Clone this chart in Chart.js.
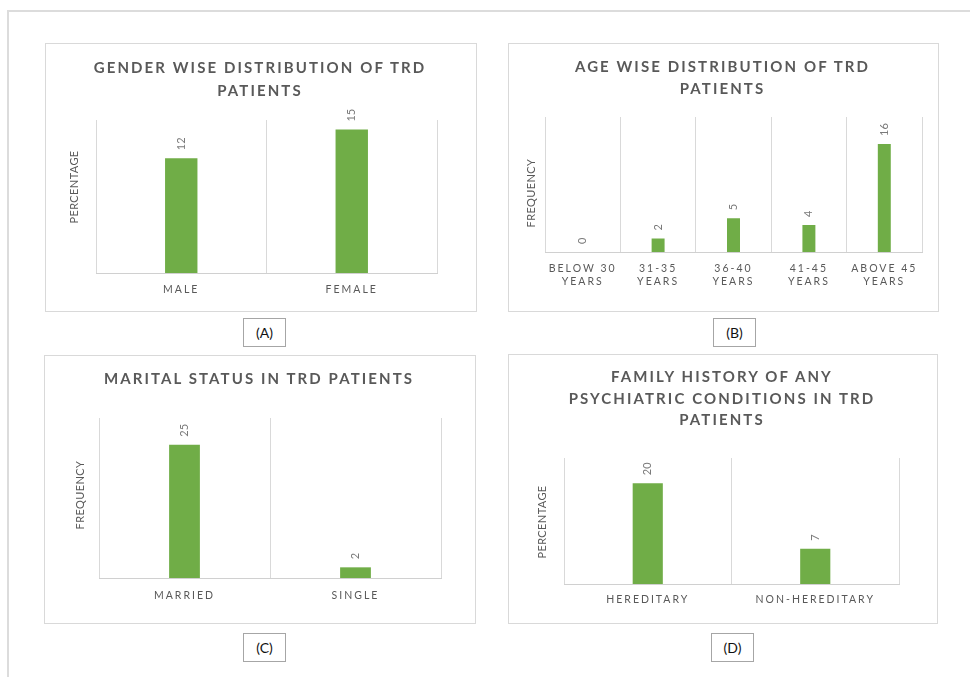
<!DOCTYPE html>
<html><head><meta charset="utf-8">
<script src="https://cdn.jsdelivr.net/npm/chart.js@4.4.1/dist/chart.umd.min.js"></script>
<style>
html,body{margin:0;padding:0;background:#fff;}
body{width:970px;height:677px;position:relative;overflow:hidden;font-family:Lato,"Open Sans",sans-serif;}
.frameTop{position:absolute;left:8px;top:10px;width:962px;height:0;border-top:2px solid #dcdcdc;}
.frameLeft{position:absolute;left:7px;top:10px;width:0;height:667px;border-left:2px solid #dcdcdc;}
.panel{position:absolute;box-sizing:border-box;border:1px solid #d9d9d9;}
.cv{position:absolute;}
.ttl{position:absolute;text-align:center;white-space:nowrap;font-weight:700;font-size:15px;letter-spacing:2.1px;color:#595959;}
.tag{position:absolute;box-sizing:border-box;width:43px;height:29px;border:1px solid #a6a6a6;text-align:center;line-height:27px;font-size:14px;color:#111;font-family:Lato,sans-serif;}
</style></head>
<body>
<div class="frameTop"></div><div class="frameLeft"></div>

<div class="panel" style="left:45px;top:43px;width:432px;height:269px;"></div>
<canvas id="cA" class="cv" style="left:45px;top:43px;"></canvas>
<div class="ttl" style="left:45px;width:430px;top:56px;line-height:23px;">GENDER WISE DISTRIBUTION OF TRD<br>PATIENTS</div>
<div class="tag" style="left:243px;top:318px;">(A)</div>

<div class="panel" style="left:508px;top:43px;width:431px;height:269px;"></div>
<canvas id="cB" class="cv" style="left:508px;top:43px;"></canvas>
<div class="ttl" style="left:508px;width:429px;top:56px;line-height:21.5px;">AGE WISE DISTRIBUTION OF TRD<br>PATIENTS</div>
<div class="tag" style="left:713px;top:318px;">(B)</div>

<div class="panel" style="left:44px;top:355px;width:432px;height:269px;"></div>
<canvas id="cC" class="cv" style="left:44px;top:355px;"></canvas>
<div class="ttl" style="left:44px;width:430px;top:367px;line-height:22px;">MARITAL STATUS IN TRD PATIENTS</div>
<div class="tag" style="left:243px;top:633px;">(C)</div>

<div class="panel" style="left:508px;top:354px;width:430px;height:270px;"></div>
<canvas id="cD" class="cv" style="left:508px;top:354px;"></canvas>
<div class="ttl" style="left:508px;width:428px;top:366px;line-height:21.5px;">FAMILY HISTORY OF ANY<br>PSYCHIATRIC CONDITIONS IN TRD<br>PATIENTS</div>
<div class="tag" style="left:711px;top:633px;">(D)</div>

<script>
// ---- data ----
const genderLabels = ['MALE', 'FEMALE'];
const genderValues = [12, 15];
const ageLabels = [['BELOW 30', 'YEARS'], ['31-35', 'YEARS'], ['36-40', 'YEARS'], ['41-45', 'YEARS'], ['ABOVE 45', 'YEARS']];
const ageValues = [0, 2, 5, 4, 16];
const maritalLabels = ['MARRIED', 'SINGLE'];
const maritalValues = [25, 2];
const familyLabels = ['HEREDITARY', 'NON-HEREDITARY'];
const familyValues = [20, 7];

const GREEN = '#70ad47';
const FONT = 'Lato, "Open Sans", sans-serif';

const valueLabels = {
  id: 'valueLabels',
  afterDatasetsDraw(chart) {
    const ctx = chart.ctx;
    const meta = chart.getDatasetMeta(0);
    const data = chart.data.datasets[0].data;
    ctx.save();
    ctx.fillStyle = '#7a7a7a';
    ctx.font = '11px ' + FONT;
    ctx.textAlign = 'left';
    ctx.textBaseline = 'middle';
    meta.data.forEach((el, i) => {
      ctx.save();
      ctx.translate(el.x, el.y - 8);
      ctx.rotate(-Math.PI / 2);
      ctx.fillText(String(data[i]), 0, 0);
      ctx.restore();
    });
    ctx.restore();
  }
};

const yTitle = {
  id: 'yTitle',
  afterDraw(chart, args, opts) {
    const ctx = chart.ctx;
    ctx.save();
    ctx.fillStyle = '#595959';
    ctx.font = '11px ' + FONT;
    ctx.letterSpacing = '0.4px';
    ctx.textAlign = 'center';
    ctx.textBaseline = 'middle';
    ctx.translate(opts.x, opts.y);
    ctx.rotate(-Math.PI / 2);
    ctx.fillText(opts.text, 0, 0);
    ctx.restore();
  }
};

const spacedTicks = {
  id: 'spacedTicks',
  beforeDraw(chart) {
    const xs = chart.scales.x;
    if (!xs._spaced) {
      const orig = xs.drawLabels.bind(xs);
      xs.drawLabels = function (ca) {
        chart.ctx.letterSpacing = '2px';
        orig(ca);
        chart.ctx.letterSpacing = '0px';
      };
      xs._spaced = true;
    }
  }
};

function makeChart(id, w, h, labels, values, cfg) {
  const cv = document.getElementById(id);
  cv.width = w; cv.height = h;
  cv.style.width = w + 'px'; cv.style.height = h + 'px';
  return new Chart(cv, {
    type: 'bar',
    data: {
      labels: labels,
      datasets: [{ data: values, backgroundColor: GREEN, borderWidth: 0,
        categoryPercentage: 1, barPercentage: cfg.barPct }]
    },
    options: {
      responsive: false,
      animation: false,
      devicePixelRatio: 1,
      layout: { padding: { top: cfg.padTop, right: cfg.padRight, left: 0, bottom: 0 } },
      plugins: {
        legend: { display: false }, tooltip: { enabled: false },
        yTitle: { text: cfg.yTitle, x: cfg.tx, y: cfg.ty }
      },
      scales: {
        x: {
          grid: { color: '#d9d9d9', lineWidth: 1, drawTicks: false, offset: true },
          border: { color: '#d0d0d0', width: 1 },
          ticks: { color: '#595959', font: { family: FONT, size: 10.5, lineHeight: 1.3 },
            padding: cfg.tickPad, autoSkip: false, maxRotation: 0, minRotation: 0 },
          afterFit(s) { s.height = cfg.xH; }
        },
        y: {
          min: 0, max: cfg.max,
          grid: { display: false },
          border: { display: false },
          ticks: { display: false },
          afterFit(s) { s.width = cfg.yW; }
        }
      }
    },
    plugins: [valueLabels, spacedTicks, yTitle]
  });
}

makeChart('cA', 432, 269, genderLabels, genderValues,
  { max: 16, barPct: 0.19, padTop: 77, padRight: 40, yW: 51, xH: 39, tickPad: 9.5, tx: 29, ty: 144, yTitle: 'PERCENTAGE' });
makeChart('cB', 431, 269, ageLabels, ageValues,
  { max: 20, barPct: 0.172, padTop: 74, padRight: 17, yW: 37, xH: 60, tickPad: 9.5, tx: 23, ty: 150, yTitle: 'FREQUENCY' });
makeChart('cC', 432, 269, maritalLabels, maritalValues,
  { max: 30, barPct: 0.18, padTop: 63, padRight: 35, yW: 55, xH: 46, tickPad: 10.5, tx: 36, ty: 140, yTitle: 'FREQUENCY' });
makeChart('cD', 430, 270, familyLabels, familyValues,
  { max: 25, barPct: 0.18, padTop: 104, padRight: 39, yW: 56, xH: 40, tickPad: 9, tx: 34, ty: 168, yTitle: 'PERCENTAGE' });
</script>
</body></html>
